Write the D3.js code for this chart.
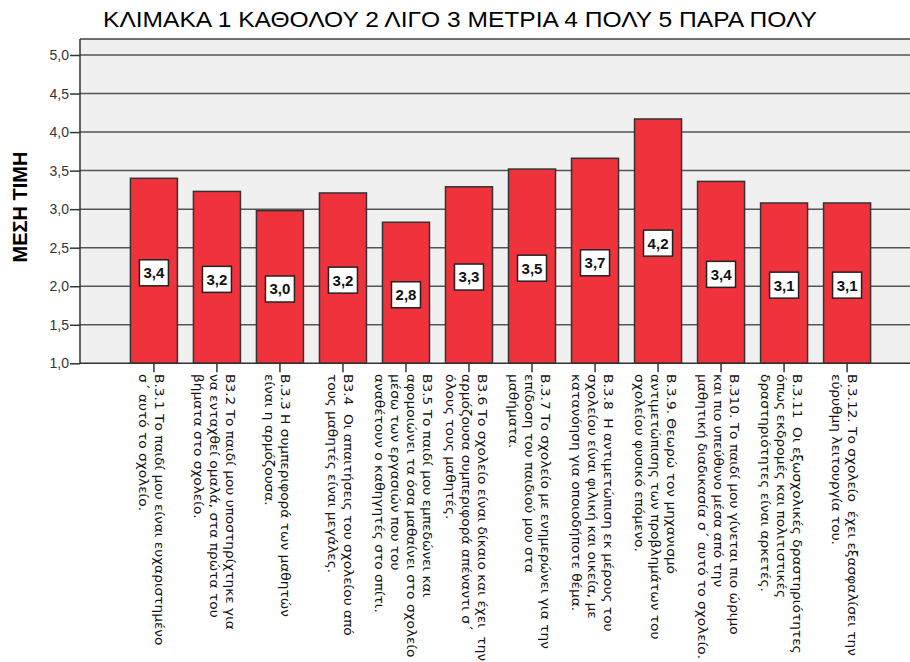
<!DOCTYPE html>
<html>
<head>
<meta charset="utf-8">
<script src="https://cdn.jsdelivr.net/npm/d3@7"></script>
<style>
  html, body { margin: 0; padding: 0; background: #fff; }
  svg { display: block; }
</style>
</head>
<body>
<svg id="chart" width="910" height="662"></svg>
<script>
const title = "ΚΛΙΜΑΚΑ 1 ΚΑΘΟΛΟΥ 2 ΛΙΓΟ 3 ΜΕΤΡΙΑ 4 ΠΟΛΥ 5 ΠΑΡΑ ΠΟΛΥ";
const yTitle = "ΜΕΣΗ ΤΙΜΗ";
const categories = ["B3.1","B3.2","B3.3","B3.4","B3.5","B3.6","B3.7","B3.8","B3.9","B3.10","B3.11","B3.12"];
const values = [3.40, 3.23, 2.98, 3.21, 2.83, 3.29, 3.52, 3.66, 4.17, 3.36, 3.08, 3.08];
const yTicks = [1.0, 1.5, 2.0, 2.5, 3.0, 3.5, 4.0, 4.5, 5.0];
const labelLines = [
  ["Β.3.1 Το παιδί μου είναι ευχαριστημένο", "σ΄ αυτό το σχολείο."],
  ["Β3.2 Το παιδί μου υποστηρίχτηκε για", "να ενταχθεί ομαλά, στα πρώτα του", "βήματα στο σχολείο."],
  ["Β.3.3 Η συμπεριφορά των μαθητών", "είναι η αρμόζουσα."],
  ["Β3.4  Οι απαιτήσεις του σχολείου από", "τους μαθητές είναι μεγάλες."],
  ["Β3.5 Το παιδί μου εμπεδώνει και", "αφομοιώνει τα όσα μαθαίνει στο σχολείο", "μέσω των εργασιών που του", "αναθέτουν ο καθηγητές στο σπίτι."],
  ["Β3.6 Το σχολείο είναι δίκαιο και έχει  την", "αρμόζουσα συμπεριφορά απέναντι σ΄", "όλους τους μαθητές."],
  ["Β.3.7 Το σχολείο με ενημερώνει για την", "επίδοση του παιδιού μου στα", "μαθήματα."],
  ["Β.3.8  Η αντιμετώπιση εκ μέρους του", "σχολείου είναι φιλική και οικεία, με", "κατανόηση για οποιοδήποτε θέμα."],
  ["Β.3.9. Θεωρώ τον μηχανισμό", "αντιμετώπισης των προβλημάτων του", "σχολείου φυσικό επόμενο."],
  ["Β.310. Το παιδί μου γίνεται πιο ώριμο", "και πιο υπεύθυνο μέσα από την", "μαθητική διαδικασία σ΄ αυτό το σχολείο."],
  ["Β.3.11  Οι εξωσχολικές δραστηριότητες", "όπως εκδρομές και πολιτιστικές", "δραστηριότητες είναι αρκετές."],
  ["Β.3.12. Το σχολείο  έχει εξασφαλίσει την", "εύρυθμη λειτουργία του."]
];

const svg = d3.select("#chart");
const plotLeft = 80, plotRight = 921, plotTop = 39;
const y = d3.scaleLinear().domain([1, 5]).range([363.3, 55]);
const x = d3.scaleBand().domain(categories).range([plotLeft, plotRight])
  .paddingInner(0.254).paddingOuter(0.8);
const fmt = v => v.toFixed(1).replace(".", ",");

// plot background
svg.append("rect")
  .attr("x", plotLeft).attr("y", plotTop)
  .attr("width", plotRight - plotLeft).attr("height", y(1) - plotTop)
  .attr("fill", "#f0f0f0");
// top frame
svg.append("line")
  .attr("x1", plotLeft).attr("x2", plotRight)
  .attr("y1", plotTop).attr("y2", plotTop)
  .attr("stroke", "#6e6e6e").attr("stroke-width", 2);

// gridlines
svg.append("g").selectAll("line").data(yTicks.filter(d => d > 1)).join("line")
  .attr("x1", plotLeft).attr("x2", plotRight)
  .attr("y1", d => y(d)).attr("y2", d => y(d))
  .attr("stroke", "#555").attr("stroke-width", 1.5);

// y axis
const yAxis = svg.append("g").attr("transform", `translate(${plotLeft},0)`)
  .call(d3.axisLeft(y).tickValues(yTicks).tickFormat(fmt).tickSize(10).tickPadding(1));
yAxis.select(".domain").attr("stroke", "#333").attr("stroke-width", 1.5).attr("d", `M0,${plotTop}V${y(1)}`);
yAxis.selectAll(".tick line").attr("stroke", "#333").attr("stroke-width", 1.5);
yAxis.selectAll(".tick text")
  .attr("font-family", "Liberation Sans, Arial, sans-serif")
  .attr("font-size", 14).attr("fill", "#333");

// bars
svg.append("g").selectAll("rect").data(values).join("rect")
  .attr("x", (d, i) => x(categories[i]))
  .attr("width", x.bandwidth())
  .attr("y", d => y(d))
  .attr("height", d => y(1) - y(d))
  .attr("fill", "#f0323c")
  .attr("stroke", "#333").attr("stroke-width", 1.5);

// x axis
const xAxis = svg.append("g").attr("transform", `translate(0,${y(1)})`)
  .call(d3.axisBottom(x).tickSize(9).tickFormat(""));
xAxis.select(".domain").attr("stroke", "#333").attr("stroke-width", 1.5)
  .attr("d", `M${plotLeft},0H${plotRight}`);
xAxis.selectAll(".tick line").attr("stroke", "#333").attr("stroke-width", 1.5);

// value labels
const vl = svg.append("g").selectAll("g").data(values).join("g")
  .attr("transform", (d, i) => `translate(${x(categories[i]) + x.bandwidth() / 2},${(y(d) + y(1)) / 2 + 2})`);
vl.append("rect")
  .attr("x", -14.5).attr("y", -13).attr("width", 29).attr("height", 26)
  .attr("fill", "#fff").attr("stroke", "#222").attr("stroke-width", 1.5);
vl.append("text")
  .attr("text-anchor", "middle").attr("dy", "0.36em")
  .attr("font-family", "Liberation Sans, Arial, sans-serif")
  .attr("font-weight", "bold").attr("font-size", 15).attr("fill", "#111")
  .text(d => fmt(d));

// category labels (rotated, slightly stretched along reading direction)
const lineH = 16;
const cl = svg.append("g").selectAll("g").data(labelLines).join("g")
  .attr("transform", (d, i) => `translate(${x(categories[i]) + x.bandwidth() / 2},374) rotate(90) scale(1.1,1)`);
cl.append("text")
  .attr("font-family", "DejaVu Sans, Verdana, sans-serif")
  .attr("font-size", 12.5).attr("fill", "#111")
  .attr("dominant-baseline", "central")
  .selectAll("tspan").data(d => d.map((t, k) => ({ t, k, n: d.length }))).join("tspan")
  .attr("x", 0)
  .attr("y", o => 2 - ((o.n - 1) / 2 - o.k) * lineH)
  .style("white-space", "pre")
  .text(o => o.t);

// title
svg.append("text")
  .attr("x", 460).attr("y", 27)
  .attr("text-anchor", "middle")
  .attr("font-family", "Liberation Sans, Arial, sans-serif")
  .attr("font-size", 22).attr("fill", "#000")
  .attr("textLength", 714).attr("lengthAdjust", "spacingAndGlyphs")
  .text(title);

// y title
svg.append("text")
  .attr("transform", "translate(27,207) rotate(-90)")
  .attr("text-anchor", "middle")
  .attr("font-family", "Liberation Sans, Arial, sans-serif")
  .attr("font-weight", "bold").attr("font-size", 20).attr("fill", "#000")
  .text(yTitle);
</script>
</body>
</html>
